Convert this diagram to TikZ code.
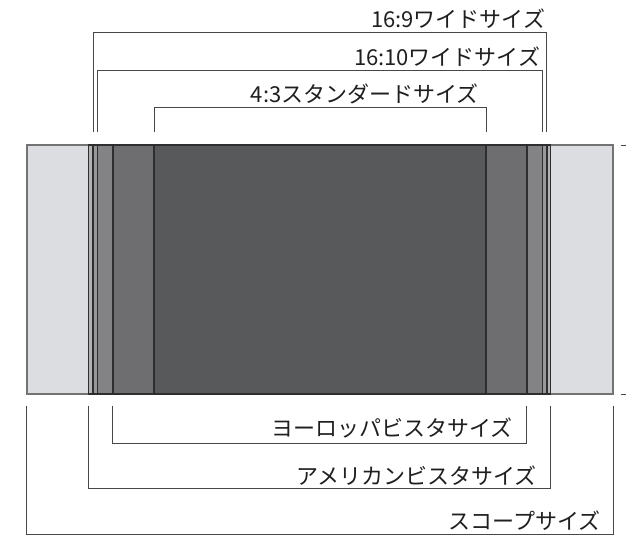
\documentclass[tikz,border=0pt]{standalone}
\usepackage{fontspec}
\newfontfamily\jp{Noto Sans CJK JP}
\definecolor{lightband}{HTML}{DCDDE0}
\definecolor{amerband}{HTML}{B2B2B4}
\definecolor{wideninecol}{HTML}{98989A}
\definecolor{widetencol}{HTML}{838385}
\definecolor{euroband}{HTML}{6E6E70}
\definecolor{stdband}{HTML}{58595B}
\begin{document}
\begin{tikzpicture}[x=1pt,y=-1pt,
  band/.style={fill=#1, draw=black!82, line width=1.1pt},
  brk/.style={draw=black!72, line width=0.9pt},
  lab/.style={font=\jp\fontsize{22}{24}\selectfont, inner sep=0pt, text=black!88, anchor=base east}]
\useasboundingbox (0,0) rectangle (626,536);

% screen bands
\path[fill=lightband, draw=black!55, line width=1.1pt] (27,145) rectangle (613,394);
\path[band=amerband] (88.5,145) rectangle (550.5,394);
\path[band=wideninecol] (93,145) rectangle (547,394);
\path[band=widetencol] (97.5,145) rectangle (542.5,394);
\path[band=euroband] (113,145) rectangle (527,394);
\path[band=stdband] (154,145) rectangle (486,394);

% right ticks
\coordinate (tka) at (620.5,145); \coordinate (tkb) at (626,145);
\coordinate (tkc) at (620.5,394); \coordinate (tkd) at (626,394);
\draw[brk] (tka) -- (tkb);
\draw[brk] (tkc) -- (tkd);

% top brackets
\coordinate (w9a) at (93.5,132); \coordinate (w9b) at (93.5,32.5);
\coordinate (w9c) at (546.5,32.5); \coordinate (w9d) at (546.5,132);
\draw[brk] (w9a) -- (w9b) -- (w9c) -- (w9d);
\coordinate (w10a) at (97.7,132); \coordinate (w10b) at (97.7,70.3);
\coordinate (w10c) at (542.3,70.3); \coordinate (w10d) at (542.3,132);
\draw[brk] (w10a) -- (w10b) -- (w10c) -- (w10d);
\coordinate (s43a) at (154.5,132); \coordinate (s43b) at (154.5,107.3);
\coordinate (s43c) at (486.6,107.3); \coordinate (s43d) at (486.6,132);
\draw[brk] (s43a) -- (s43b) -- (s43c) -- (s43d);

% bottom brackets
\coordinate (eua) at (112.6,406); \coordinate (eub) at (112.6,443);
\coordinate (euc) at (526.8,443); \coordinate (eud) at (526.8,406);
\draw[brk] (eua) -- (eub) -- (euc) -- (eud);
\coordinate (ama) at (88.5,406); \coordinate (amb) at (88.5,488.5);
\coordinate (amc) at (550.3,488.5); \coordinate (amd) at (550.3,406);
\draw[brk] (ama) -- (amb) -- (amc) -- (amd);
\coordinate (sca) at (26.5,406); \coordinate (scb) at (26.5,534);
\coordinate (scc) at (613.5,534); \coordinate (scd) at (613.5,406);
\draw[brk] (sca) -- (scb) -- (scc) -- (scd);

% labels
\node[lab] (t169) at (545.5,27) {16:9ワイドサイズ};
\node[lab] (t1610) at (540.5,65) {16:10ワイドサイズ};
\node[lab] (t43) at (479,102) {4:3スタンダードサイズ};
\node[lab] (teu) at (513,436) {ヨーロッパビスタサイズ};
\node[lab] (tam) at (537,484) {アメリカンビスタサイズ};
\node[lab] (tsc) at (601,529) {スコープサイズ};
\end{tikzpicture}
\end{document}
